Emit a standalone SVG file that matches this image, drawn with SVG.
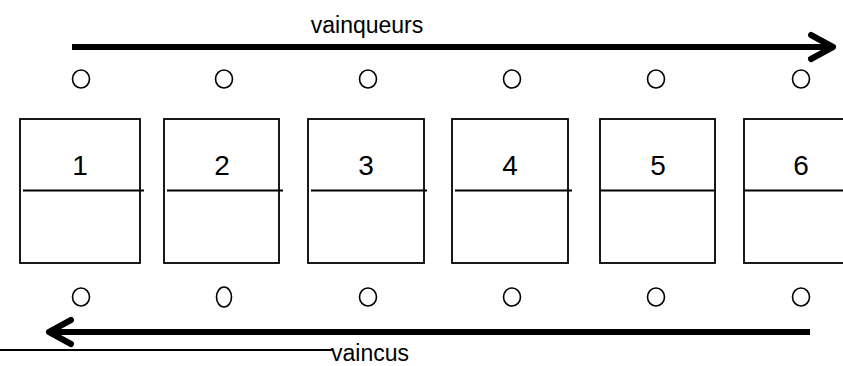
<svg xmlns="http://www.w3.org/2000/svg" width="843" height="366" viewBox="0 0 843 366">
<style>
.box{fill:none;stroke:#000;stroke-width:1.8}
.div{stroke:#000;stroke-width:1.8}
.num{font-family:"Liberation Sans",Arial,sans-serif;font-size:28px;fill:#000;text-anchor:middle}
.lbl{font-family:"Liberation Sans",Arial,sans-serif;font-size:23px;fill:#000;text-anchor:middle}
.dot{fill:none;stroke:#000;stroke-width:1.6}
.arrow{fill:none;stroke:#000;stroke-width:6;stroke-linecap:round;stroke-linejoin:round}
</style>
<rect width="843" height="366" fill="#fff"/>
<g id="connectors">
<line class="arrow" x1="72" y1="47" x2="832" y2="47" style="stroke-linecap:butt"/>
<polyline class="arrow" points="811,35 833,47 811,59"/>
<line class="arrow" x1="810" y1="332" x2="50" y2="332" style="stroke-linecap:butt"/>
<polyline class="arrow" points="71,320 49,332 71,344"/>
<line x1="0" y1="350" x2="332" y2="350" stroke="#000" stroke-width="1.8"/>
</g>
<text id="label-vainqueurs" class="lbl" x="367" y="33">vainqueurs</text>
<text id="label-vaincus" class="lbl" x="370" y="361">vaincus</text>
<g id="node1"><rect class="box" x="20" y="119" width="120" height="144"/><line class="div" x1="23" y1="190.5" x2="144" y2="190.5"/><text class="num" x="80" y="175">1</text></g>
<g id="node2"><rect class="box" x="164" y="119" width="115" height="144"/><line class="div" x1="167" y1="190.5" x2="283" y2="190.5"/><text class="num" x="222" y="175">2</text></g>
<g id="node3"><rect class="box" x="308" y="119" width="116" height="144"/><line class="div" x1="311" y1="190.5" x2="427" y2="190.5"/><text class="num" x="366" y="175">3</text></g>
<g id="node4"><rect class="box" x="452" y="119" width="116" height="144"/><line class="div" x1="455" y1="190.5" x2="572" y2="190.5"/><text class="num" x="510" y="175">4</text></g>
<g id="node5"><rect class="box" x="600" y="119" width="115" height="144"/><line class="div" x1="600" y1="190.5" x2="715" y2="190.5"/><text class="num" x="658" y="175">5</text></g>
<g id="node6"><rect class="box" x="744" y="119" width="120" height="144"/><line class="div" x1="744" y1="190.5" x2="843" y2="190.5"/><text class="num" x="801" y="175">6</text></g>
<g id="circles">
<ellipse class="dot" cx="81" cy="79" rx="8.5" ry="9"/>
<ellipse class="dot" cx="224" cy="79" rx="8.5" ry="9"/>
<ellipse class="dot" cx="368" cy="79" rx="8.5" ry="9"/>
<ellipse class="dot" cx="512" cy="79" rx="8.5" ry="9"/>
<ellipse class="dot" cx="656" cy="79" rx="8.5" ry="9"/>
<ellipse class="dot" cx="801" cy="79" rx="8.5" ry="9"/>
<ellipse class="dot" cx="81" cy="297" rx="8.5" ry="9"/>
<ellipse class="dot" cx="224" cy="297" rx="7.5" ry="10"/>
<ellipse class="dot" cx="368" cy="297" rx="8.5" ry="9"/>
<ellipse class="dot" cx="512" cy="297" rx="8.5" ry="9"/>
<ellipse class="dot" cx="656" cy="297" rx="8.5" ry="9"/>
<ellipse class="dot" cx="801" cy="297" rx="8.5" ry="9"/>
</g>
</svg>
